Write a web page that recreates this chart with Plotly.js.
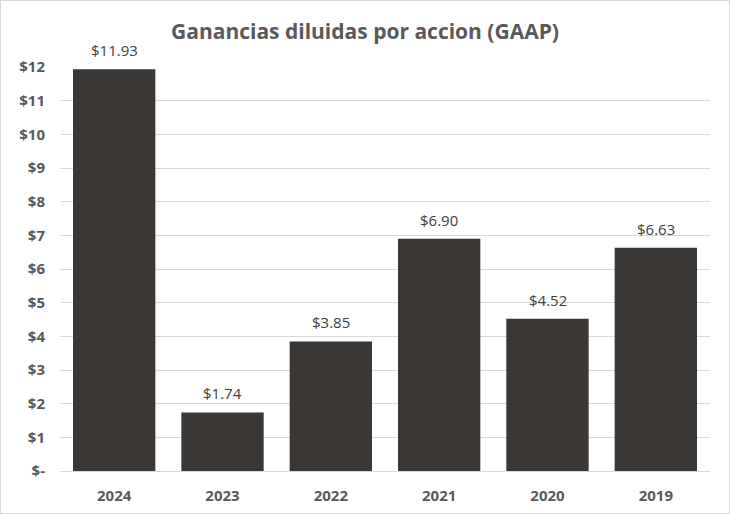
<!DOCTYPE html>
<html><head><meta charset="utf-8">
<script src="https://cdn.plot.ly/plotly-3.0.1.min.js"></script>
<style>html,body{margin:0;padding:0;background:#fff}#c{width:730px;height:514px;box-sizing:border-box;border:1px solid #d9d9d9}</style>
</head><body><div id="c"></div>
<script>
const years = ['2024','2023','2022','2021','2020','2019'];
const eps = [11.93, 1.74, 3.85, 6.90, 4.52, 6.63];
const labels = ['$11.93','$1.74','$3.85','$6.90','$4.52','$6.63'];
const tickVals = [0,1,2,3,4,5,6,7,8,9,10,11,12];
const tickText = ['$-','$1','$2','$3','$4','$5','$6','$7','$8','$9','$10','$11','$12'];

const annotations = years.map((yr,i)=>({
  x: i, y: eps[i], xref:'x', yref:'y', text: labels[i], showarrow:false,
  yanchor:'bottom', yshift:7,
  font:{family:'Open Sans, sans-serif', size:15, color:'#404040'}
}));

Plotly.newPlot('c', [{
  type:'bar', x: years, y: eps,
  marker:{color:'#3b3735'}, hoverinfo:'none'
}], {
  width:728, height:512,
  margin:{l:59, r:19, t:66, b:42},
  bargap:0.24,
  paper_bgcolor:'#fff', plot_bgcolor:'#fff',
  title:{text:'<b>Ganancias diluidas por accion (GAAP)</b>', x:0.5, xanchor:'center', y:0.94, yanchor:'middle',
    font:{family:'Open Sans, sans-serif', size:21, color:'#595959'}},
  xaxis:{type:'category', categoryorder:'array', categoryarray:years, range:[-0.5,5.5],
    showgrid:false, zeroline:false, showline:false, ticks:'', ticklabelstandoff:14,
    tickfont:{family:'Open Sans, sans-serif', size:15, color:'#595959', weight:'bold'}},
  yaxis:{range:[0,12], tickvals:tickVals, ticktext:tickText, showgrid:true, gridcolor:'#d9d9d9', gridwidth:1,
    zeroline:true, zerolinecolor:'#d9d9d9', showline:false, ticks:'', ticklabelstandoff:14,
    tickfont:{family:'Open Sans, sans-serif', size:15, color:'#595959', weight:'bold'}},
  annotations: annotations,
  showlegend:false
}, {staticPlot:true, displayModeBar:false});
</script></body></html>
